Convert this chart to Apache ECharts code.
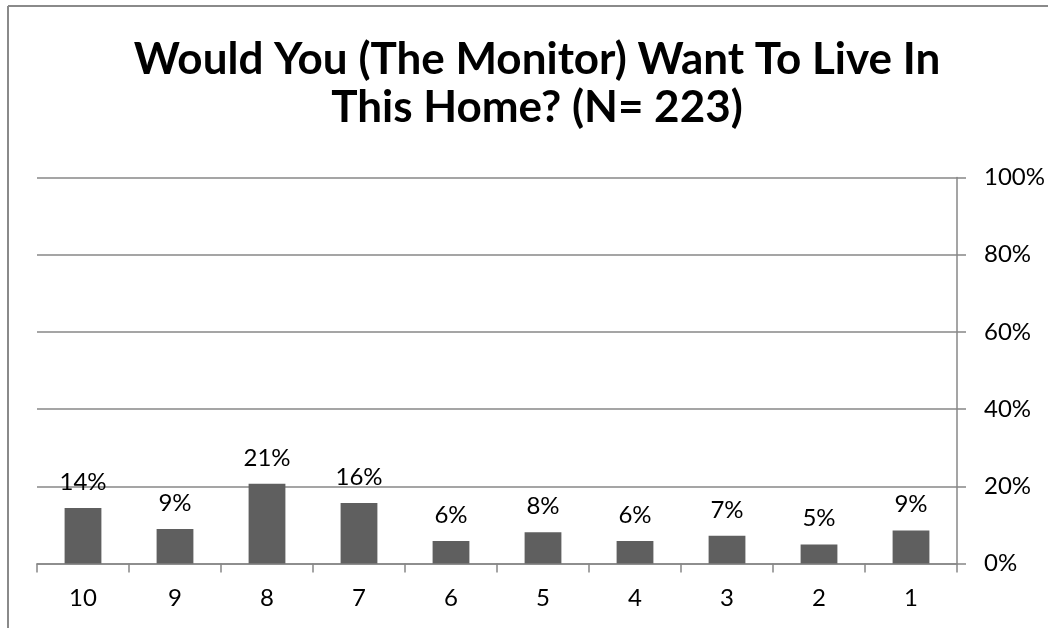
<!DOCTYPE html>
<html>
<head>
<meta charset="utf-8">
<script src="https://cdn.jsdelivr.net/npm/echarts@6/dist/echarts.min.js"></script>
<style>
  html, body { margin: 0; padding: 0; background: #ffffff; }
  #chart { width: 1048px; height: 628px; }
</style>
</head>
<body>
<div id="chart"></div>
<script>
const titleText = 'Would You (The Monitor) Want To Live In\nThis Home? (N= 223)';
const categories = ['10', '9', '8', '7', '6', '5', '4', '3', '2', '1'];
const values = [14.35, 8.97, 20.63, 15.70, 5.83, 8.07, 5.83, 7.17, 4.93, 8.52];
const yTicks = [0, 20, 40, 60, 80, 100];

const FONT = 'Lato, "Open Sans", sans-serif';
const GRAY = '#878787';

const chart = echarts.init(document.getElementById('chart'), null, { renderer: 'canvas' });
chart.setOption({
  animation: false,
  backgroundColor: '#ffffff',
  title: {
    text: titleText,
    left: 532,
    textAlign: 'center',
    top: 31,
    textStyle: { fontFamily: FONT, fontWeight: 'bold', fontSize: 44, lineHeight: 48, color: '#000' }
  },
  graphic: [
    { type: 'line', shape: { x1: 8, y1: 6, x2: 1048, y2: 6 }, style: { stroke: '#8a8a8a', lineWidth: 2 }, silent: true },
    { type: 'line', shape: { x1: 8, y1: 6, x2: 8, y2: 628 }, style: { stroke: '#8a8a8a', lineWidth: 2 }, silent: true }
  ],
  grid: { left: 37, right: 88, top: 177.5, bottom: 64.5, containLabel: false },
  xAxis: {
    type: 'category',
    data: categories,
    boundaryGap: true,
    axisLine: { show: true, lineStyle: { color: GRAY, width: 1.5 } },
    axisTick: { show: true, alignWithLabel: false, length: 9, lineStyle: { color: GRAY, width: 1.5 } },
    axisLabel: { margin: 23, fontFamily: FONT, fontSize: 24, color: '#000' },
    splitLine: { show: false }
  },
  yAxis: {
    type: 'value',
    position: 'right',
    min: yTicks[0],
    max: yTicks[yTicks.length - 1],
    interval: 20,
    axisLine: { show: true, lineStyle: { color: GRAY, width: 1.5 } },
    axisTick: { show: true, inside: false, length: 9, lineStyle: { color: GRAY, width: 1.5 } },
    axisLabel: { margin: 27, fontFamily: FONT, fontSize: 24, color: '#000', formatter: '{value}%' },
    splitLine: { show: true, lineStyle: { color: GRAY, width: 1.5 } }
  },
  series: [{
    type: 'bar',
    data: values,
    barWidth: '40%',
    itemStyle: { color: '#5f5f5f' },
    label: {
      show: true,
      position: 'top',
      distance: 14,
      fontFamily: FONT,
      fontSize: 24,
      color: '#000',
      formatter: p => Math.round(p.value) + '%'
    }
  }]
});
</script>
</body>
</html>
